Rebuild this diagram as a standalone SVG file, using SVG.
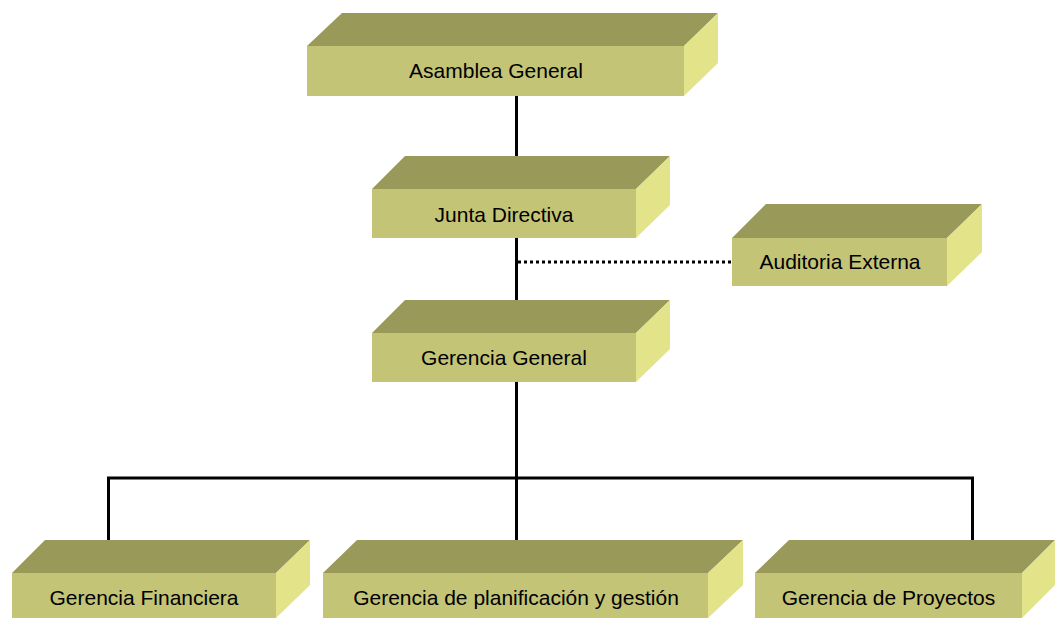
<svg xmlns="http://www.w3.org/2000/svg" width="1056" height="618" viewBox="0 0 1056 618">
<style>
.top{fill:#999959}
.front{fill:#c4c477}
.side{fill:#e3e38a}
.lbl{font-family:"Liberation Sans",Arial,sans-serif;font-size:21px;fill:#000;text-anchor:middle}
.ln{stroke:#000;stroke-width:3;fill:none}
.dot{stroke:#000;stroke-width:3;fill:none;stroke-dasharray:3 3}
</style>
<rect width="1056" height="618" fill="#fff"/>
<g id="connectors">
<line class="ln" x1="516.5" y1="96" x2="516.5" y2="189"/>
<line class="ln" x1="516.5" y1="238" x2="516.5" y2="333"/>
<line class="ln" x1="516.5" y1="382" x2="516.5" y2="540"/>
<polyline class="ln" points="108.5,540 108.5,478 972.5,478 972.5,540"/>
<line class="dot" x1="518" y1="262" x2="732" y2="262"/>
</g>
<g id="asamblea">
<polygon class="top" points="307,46 342,13 718,13 684,46"/>
<polygon class="side" points="684,46 718,13 718,63 684,96"/>
<rect class="front" x="307" y="46" width="377" height="50"/>
<text class="lbl" x="496" y="78">Asamblea General</text>
</g>
<g id="junta">
<polygon class="top" points="372,189 405,156 670,156 636,189"/>
<polygon class="side" points="636,189 670,156 670,205 636,238"/>
<rect class="front" x="372" y="189" width="264" height="49"/>
<text class="lbl" x="504" y="222">Junta Directiva</text>
</g>
<g id="auditoria">
<polygon class="top" points="732,238 766,204 982,204 947,238"/>
<polygon class="side" points="947,238 982,204 982,252 947,286"/>
<rect class="front" x="732" y="238" width="215" height="48"/>
<text class="lbl" x="840" y="269">Auditoria Externa</text>
</g>
<g id="gerencia-general">
<polygon class="top" points="372,333 405,300 670,300 636,333"/>
<polygon class="side" points="636,333 670,300 670,349 636,382"/>
<rect class="front" x="372" y="333" width="264" height="49"/>
<text class="lbl" x="504" y="365">Gerencia General</text>
</g>
<g id="financiera">
<polygon class="top" points="12,573 45,540 310,540 276,573"/>
<polygon class="side" points="276,573 310,540 310,585 276,618"/>
<rect class="front" x="12" y="573" width="264" height="50"/>
<text class="lbl" x="144" y="605">Gerencia Financiera</text>
</g>
<g id="planificacion">
<polygon class="top" points="323,573 357,540 743,540 708,573"/>
<polygon class="side" points="708,573 743,540 743,585 708,618"/>
<rect class="front" x="323" y="573" width="385" height="50"/>
<text class="lbl" x="516" y="605">Gerencia de planificación y gestión</text>
</g>
<g id="proyectos">
<polygon class="top" points="755,573 789,540 1055,540 1022,573"/>
<polygon class="side" points="1022,573 1055,540 1055,585 1022,618"/>
<rect class="front" x="755" y="573" width="267" height="50"/>
<text class="lbl" x="888.5" y="605">Gerencia de Proyectos</text>
</g>
</svg>
